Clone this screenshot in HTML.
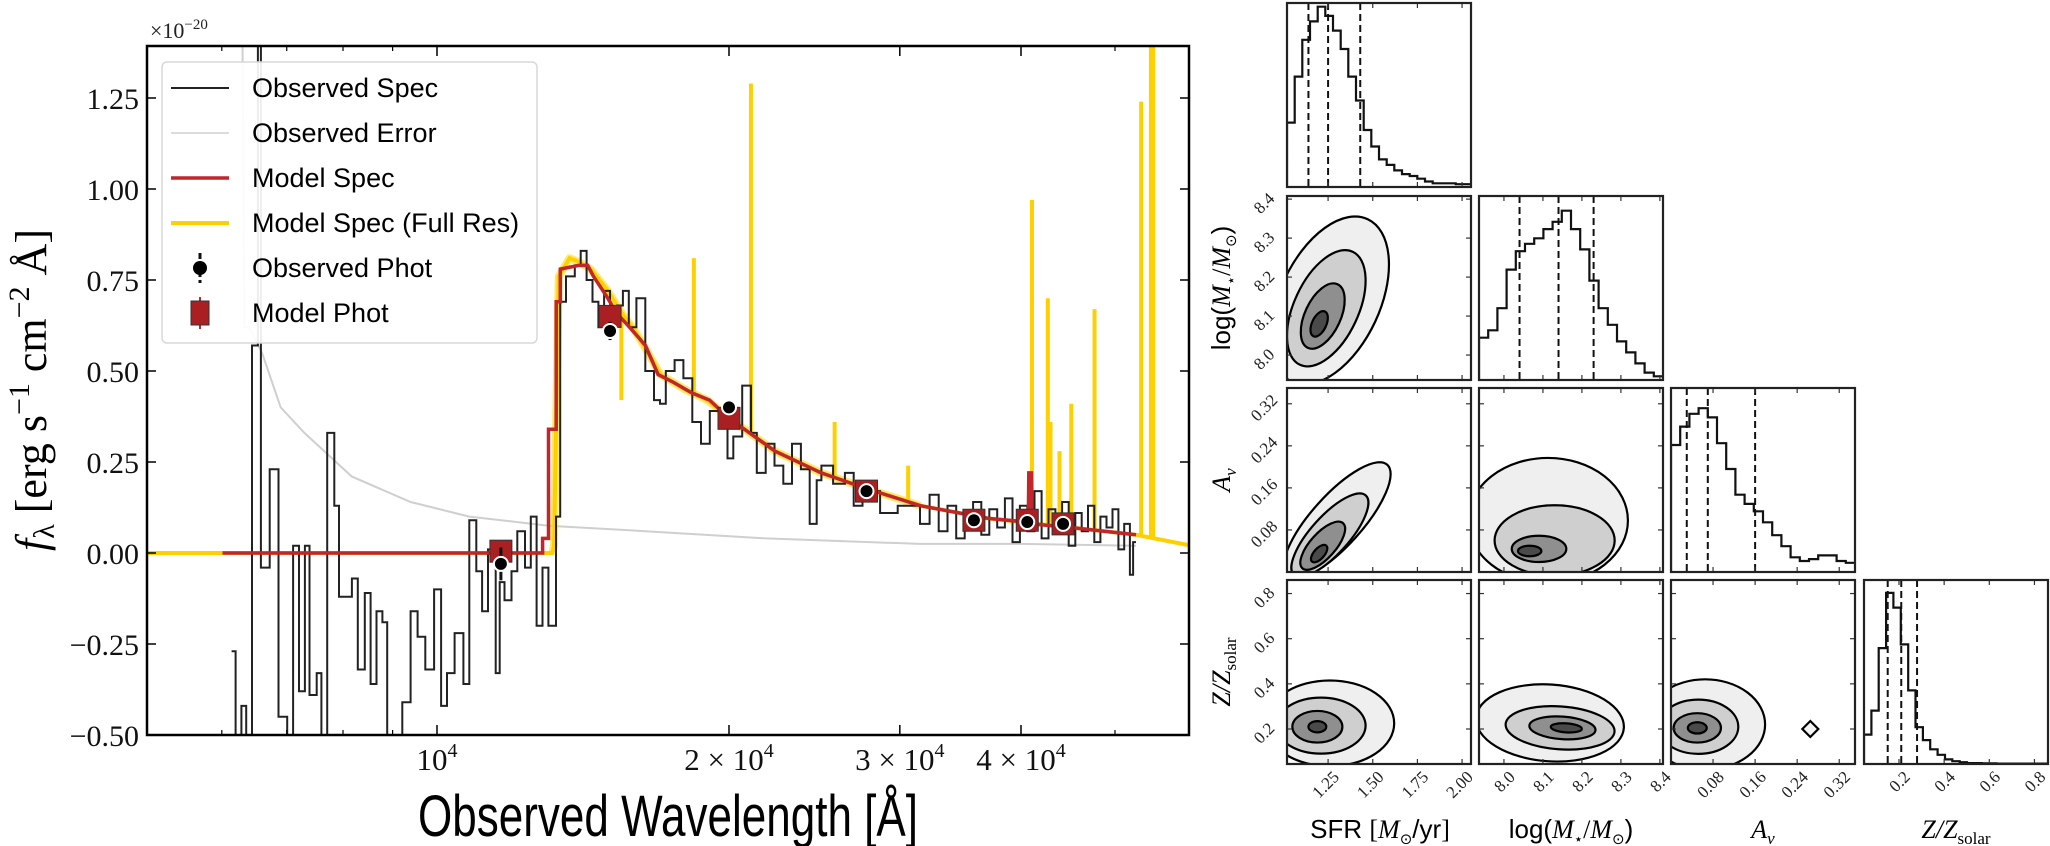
<!DOCTYPE html>
<html><head><meta charset="utf-8"><title>SED fit and posterior corner plot</title>
<style>
html,body{margin:0;padding:0;background:#fff;}
svg{display:block;}
.serif{font-family:"Liberation Serif","DejaVu Serif",serif;}
.sans{font-family:"Liberation Sans","DejaVu Sans",sans-serif;}
</style></head>
<body>
<svg id="fig" xmlns="http://www.w3.org/2000/svg" width="2050" height="846" viewBox="0 0 2050 846">
<defs>
<clipPath id="specClip"><rect x="147" y="46" width="1042" height="689"/></clipPath>
</defs>
<g id="spec"></g>
<g id="corner"></g>
</svg>
<script>
// ===== Spectrum data =====
const obsEdges = [6141,6200,6286,6357,6446,6537,6583,6722,6864,7008,7107,7206,7308,7389,7516,7600,7706,7836,7925,8171,8286,8424,8541,8662,8784,8884,9008,9210,9393,9550,9725,9931,10098,10240,10426,10647,10796,10978,11131,11287,11494,11605,11737,11934,12101,12322,12494,12668,12846,13026,13265,13397,13583,13870,14066,14264,14464,14668,14870,15080,15333,15548,15765,16055,16395,16740,16977,17213,17579,17950,18330,18715,19111,19515,19928,20207,20635,21072,21366,21818,22280,22751,23228,23721,24222,24630,24904,25608,26332,26888,27457,28628,29852,31474,32200,32900,33600,34300,35000,35700,36400,37100,37800,38500,39200,39900,40600,41300,42000,42700,43400,44100,44800,45500,46200,46900,47600,48300,49000,49700,50400,51100,51800,52200,52560];
const obsFlux = [-0.27,-0.6,-0.42,-0.6,0.57,1.5,-0.04,0.23,-0.45,-0.6,0.02,-0.38,0.02,-0.39,-0.33,-0.6,0.33,0.13,-0.12,-0.07,-0.32,-0.11,-0.36,-0.16,-0.19,-0.6,-0.5,-0.41,-0.16,-0.23,-0.32,-0.10,-0.42,-0.33,-0.22,-0.36,0.09,-0.05,-0.16,0.01,-0.33,-0.08,-0.13,-0.05,0.06,-0.04,0.10,-0.20,-0.04,-0.20,0.10,0.69,0.76,0.79,0.83,0.75,0.69,0.62,0.72,0.63,0.68,0.72,0.62,0.70,0.50,0.42,0.41,0.50,0.53,0.48,0.36,0.30,0.39,0.35,0.26,0.32,0.46,0.33,0.22,0.30,0.24,0.19,0.30,0.23,0.08,0.20,0.24,0.19,0.22,0.13,0.17,0.11,0.13,0.08,0.16,0.06,0.13,0.04,0.11,0.14,0.05,0.12,0.07,0.15,0.03,0.13,0.06,0.17,0.04,0.12,0.08,0.14,0.02,0.11,0.06,0.13,0.03,0.10,0.07,0.12,0.01,0.08,-0.06,0.03];
const errWave = [6300,6330,6400,6600,6900,7300,8171,9393,10796,13026,16395,21818,31474,40000,52560];
const errFlux = [1.45,0.62,0.62,0.55,0.40,0.33,0.21,0.14,0.10,0.075,0.06,0.04,0.025,0.025,0.02];
const modelWave = [6010,12850,12850,13030,13030,13270,13270,13400,13400,14000,14300,14500,15000,15300,15800,16400,16900,17500,18300,19100,20000,21000,22300,24900,27500,31500,37000,40700,40750,41000,41050,45000,52560];
const modelFlux = [0,0,0.04,0.04,0.34,0.34,0.69,0.69,0.78,0.79,0.79,0.76,0.70,0.66,0.62,0.57,0.49,0.47,0.44,0.42,0.37,0.33,0.28,0.22,0.18,0.13,0.095,0.085,0.22,0.22,0.08,0.07,0.05];
const fullWave = [5020,13150,13200,13350,13700,14000,14400,15000,15500,16000,16500,17000,18000,19000,20000,21000,22300,24900,27500,31500,37000,45000,52560,60000];
const fullFlux = [0,0,0.02,0.76,0.81,0.80,0.78,0.72,0.66,0.61,0.55,0.49,0.45,0.42,0.37,0.33,0.28,0.22,0.18,0.13,0.095,0.07,0.05,0.02];
const lineWave = [15490,18400,21070,25700,30600,41060,42630,42900,43830,45070,47630,53200,54450,54750];
const linePeak = [0.42,0.81,1.29,0.36,0.24,0.97,0.70,0.36,0.28,0.41,0.67,1.24,1.6,1.6];
const photWave = [11638,15080,20000,27720,35770,40600,44200];
const photObs = [-0.03,0.61,0.40,0.17,0.09,0.085,0.08];
const photErr = [0.045,0.025,0.02,0.012,0.012,0.012,0.012];
const photModel = [0.005,0.65,0.37,0.17,0.09,0.09,0.08];
const yTicks = [-0.5,-0.25,0,0.25,0.5,0.75,1.0,1.25];
const yTickLabels = ["\u22120.50","\u22120.25","0.00","0.25","0.50","0.75","1.00","1.25"];
const xMajor = [10000,20000,30000,40000];
const xMajorMant = ["","2","3","4"];
const xMinor = [6000,7000,8000,9000,50000];

// ===== Corner data =====
const sfrTicks = [1.25,1.5,1.75,2.0];
const sfrTickLabels = ["1.25","1.50","1.75","2.00"];
const massTicks = [8.0,8.1,8.2,8.3,8.4];
const massTickLabels = ["8.0","8.1","8.2","8.3","8.4"];
const avTicks = [0.08,0.16,0.24,0.32];
const avTickLabels = ["0.08","0.16","0.24","0.32"];
const zTicks = [0.2,0.4,0.6,0.8];
const zTickLabels = ["0.2","0.4","0.6","0.8"];
const sfrHist = [0.35,0.6,0.8,0.9,0.98,0.93,0.85,0.75,0.6,0.47,0.31,0.22,0.15,0.12,0.09,0.07,0.06,0.045,0.03,0.02,0.02,0.02,0.015,0.015];
const massHist = [0.23,0.27,0.39,0.6,0.7,0.74,0.77,0.82,0.86,0.92,0.82,0.71,0.54,0.39,0.3,0.21,0.15,0.09,0.04,0.02];
const avHist = [0.69,0.79,0.86,0.89,0.84,0.70,0.56,0.42,0.37,0.33,0.27,0.20,0.14,0.08,0.06,0.07,0.09,0.09,0.06,0.05];
const zHist = [0.16,0.29,0.63,0.93,0.85,0.65,0.4,0.2,0.13,0.08,0.05,0.025,0.015,0.01,0.005,0.005,0.004,0.003,0.002,0.002,0.002,0.002,0.002,0.002,0.002];
const sfrQuant = [1.14,1.25,1.43];
const massQuant = [8.04,8.14,8.23];
const avQuant = [0.03,0.07,0.16];
const zQuant = [0.15,0.21,0.28];
const cSfrMassX = [1.26,1.24,1.22,1.2], cSfrMassY = [8.14,8.12,8.10,8.08], cSfrMassRX = [0.28,0.18,0.1,0.04], cSfrMassRY = [0.23,0.16,0.09,0.035];
const cSfrAvX = [1.30,1.26,1.22,1.2], cSfrAvY = [0.098,0.07,0.05,0.035], cSfrAvRX = [0.42,0.3,0.17,0.06], cSfrAvRY = [0.048,0.036,0.024,0.01];
const cMassAvX = [8.113,8.13,8.09,8.066], cMassAvY = [0.098,0.06,0.044,0.04], cMassAvRX = [0.205,0.154,0.07,0.03], cMassAvRY = [0.119,0.067,0.025,0.01];
const cSfrZX = [1.26,1.21,1.19,1.19], cSfrZY = [0.225,0.215,0.21,0.21], cSfrZRX = [0.36,0.25,0.14,0.05], cSfrZRY = [0.19,0.124,0.07,0.025];
const cMassZX = [8.118,8.144,8.15,8.16], cMassZY = [0.227,0.205,0.205,0.205], cMassZRX = [0.19,0.14,0.085,0.04], cMassZRY = [0.17,0.095,0.05,0.02];
const cAvZX = [0.065,0.052,0.05,0.05], cAvZY = [0.22,0.21,0.205,0.205], cAvZRX = [0.114,0.076,0.045,0.018], cAvZRY = [0.2,0.12,0.065,0.025];

const NS = "http://www.w3.org/2000/svg";
function mk(tag, attrs, parent){const e=document.createElementNS(NS,tag);for(const k in attrs)e.setAttribute(k,attrs[k]);parent.appendChild(e);return e;}

const spec = document.getElementById('spec');
const PX0=147, PX1=1189, PY0=46, PY1=735;
const X = l => 437 + 970*Math.log10(l/1e4);
const Y = v => 553 - 364*v;

const plotBg = mk('rect',{x:PX0,y:PY0,width:PX1-PX0,height:PY1-PY0,fill:'#fff'},spec);



const clipG = mk('g',{'clip-path':'url(#specClip)'},spec);



let d='';
errWave.forEach((w,i)=>{d+=(i?'L':'M')+X(w).toFixed(1)+' '+Y(errFlux[i]).toFixed(1);});
const errPath = mk('path',{d:d,fill:'none',stroke:'#cfcfcf','stroke-width':2},clipG);



function interp(xs,ys,x){for(let i=1;i<xs.length;i++){if(x<=xs[i]){const t=(x-xs[i-1])/((xs[i]-xs[i-1])||1);return ys[i-1]+t*(ys[i]-ys[i-1]);}}return ys[ys.length-1];}
d='';
fullWave.forEach((w,i)=>{d+=(i?'L':'M')+X(w).toFixed(1)+' '+Y(fullFlux[i]).toFixed(1);});
let dBand='';
let first=true;
fullWave.forEach((w,i)=>{ if(w>=13150 && w<=31500){dBand+=(first?'M':'L')+X(w).toFixed(1)+' '+Y(fullFlux[i]).toFixed(1);first=false;} });
const fullBand = mk('path',{d:dBand,fill:'none',stroke:'#ffd700','stroke-width':8,'stroke-opacity':0.55,'stroke-linejoin':'round'},clipG);


const fullLine = mk('path',{d:d,fill:'none',stroke:'#ffd000','stroke-width':4},clipG);


lineWave.forEach((w,i)=>{
  const base = interp(fullWave,fullFlux,w);
  const ln = mk('line',{x1:X(w),x2:X(w),y1:Y(base),y2:Y(linePeak[i]),stroke:'#ffd000','stroke-width':4},clipG);
  
  
});

d='';
for(let i=0;i<obsFlux.length && i+1<obsEdges.length;i++){
  const x0=X(obsEdges[i]).toFixed(1), x1=X(obsEdges[i+1]).toFixed(1), y=Y(obsFlux[i]).toFixed(1);
  d+=(i?'L':'M')+x0+' '+y+'L'+x1+' '+y;
}
const obsPath = mk('path',{d:d,fill:'none',stroke:'#222','stroke-width':2},clipG);



d='';
modelWave.forEach((w,i)=>{d+=(i?'L':'M')+X(w).toFixed(1)+' '+Y(modelFlux[i]).toFixed(1);});
const modPath = mk('path',{d:d,fill:'none',stroke:'#c0262c','stroke-width':3.5},clipG);



photWave.forEach((w,i)=>{
  const x=X(w);
  const sq = mk('rect',{x:x-11,y:Y(photModel[i])-11,width:22,height:22,fill:'#a91f22',stroke:'#333','stroke-width':1},clipG);
  
  
  const eb = mk('line',{x1:x,x2:x,y1:Y(photObs[i]+photErr[i]),y2:Y(photObs[i]-photErr[i]),stroke:'#111','stroke-width':3},clipG);
  
  
  const c = mk('circle',{cx:x,cy:Y(photObs[i]),r:7,fill:'#000',stroke:'#fff','stroke-width':2},clipG);
  
  
});

const frame = mk('rect',{x:PX0,y:PY0,width:PX1-PX0,height:PY1-PY0,fill:'none',stroke:'#000','stroke-width':2.5},spec);



yTicks.forEach((v,i)=>{
  const y=Y(v);
  const t1 = mk('line',{x1:PX0,x2:PX0+9,y1:y,y2:y,stroke:'#000','stroke-width':1.5},spec);
  
  
  const t2 = mk('line',{x1:PX1-9,x2:PX1,y1:y,y2:y,stroke:'#000','stroke-width':1.5},spec);
  
  
  const lb = mk('text',{x:PX0-8,y:y+11,'text-anchor':'end','font-size':30,class:'serif',fill:'#111'},spec);
  lb.textContent = yTickLabels[i];
  
  
});
xMajor.forEach((w,i)=>{
  const x=X(w);
  const t1 = mk('line',{x1:x,x2:x,y1:PY1,y2:PY1-10,stroke:'#000','stroke-width':1.5},spec);
  
  
  const t2 = mk('line',{x1:x,x2:x,y1:PY0,y2:PY0+10,stroke:'#000','stroke-width':1.5},spec);
  
  
  const lb = mk('text',{x:x,y:770,'text-anchor':'middle','font-size':31,class:'serif',fill:'#111'},spec);
  
  
  const pre = xMajorMant[i] ? xMajorMant[i]+' \u00d7 10' : '10';
  const a = mk('tspan',{},lb); a.textContent = pre;
  const b = mk('tspan',{dy:-13,'font-size':20},lb); b.textContent='4';
});
xMinor.forEach(w=>{
  const x=X(w);
  const t1 = mk('line',{x1:x,x2:x,y1:PY1,y2:PY1-5,stroke:'#000','stroke-width':1.2},spec);
  
  
  const t2 = mk('line',{x1:x,x2:x,y1:PY0,y2:PY0+5,stroke:'#000','stroke-width':1.2},spec);
  
  
});

const off = mk('text',{x:150,y:38,'font-size':22,class:'serif',fill:'#222'},spec);


const o1=mk('tspan',{},off); o1.textContent='\u00d710';
const o2=mk('tspan',{dy:-9,'font-size':15},off); o2.textContent='\u221220';

const xt = mk('text',{x:668,y:836,'text-anchor':'middle','font-size':58,class:'sans',fill:'#000',textLength:500,lengthAdjust:'spacingAndGlyphs'},spec);
xt.textContent='Observed Wavelength [\u00c5]';



const yt = mk('text',{x:0,y:0,'text-anchor':'middle','font-size':44,class:'serif',fill:'#000',transform:'translate(46,390) rotate(-90)'},spec);


const ya=mk('tspan',{'font-style':'italic'},yt); ya.textContent='f';
const yb=mk('tspan',{dy:8,'font-size':30},yt); yb.textContent='\u03bb';
const yc=mk('tspan',{dy:-8},yt); yc.textContent=' [erg s';
const yd=mk('tspan',{dy:-17,'font-size':30},yt); yd.textContent='\u22121';
const ye=mk('tspan',{dy:17},yt); ye.textContent=' cm';
const yf=mk('tspan',{dy:-17,'font-size':30},yt); yf.textContent='\u22122';
const yg=mk('tspan',{dy:17},yt); yg.textContent=' \u00c5]';

const leg = mk('g',{},spec);


const lbox = mk('rect',{x:162,y:62,width:375,height:281,rx:5,fill:'#fff','fill-opacity':0.92,stroke:'#d8d8d8','stroke-width':1.5},leg);


const legLabels=['Observed Spec','Observed Error','Model Spec','Model Spec (Full Res)','Observed Phot','Model Phot'];
const legBase=[97,142,187,232,277,322];
legLabels.forEach((t,i)=>{
  const cy=legBase[i]-9;
  const entry = mk('g',{},leg);
  
  
  if(i<4){
    const col=['#222','#cfcfcf','#c0262c','#ffd000'][i], w=[2,1.5,3.5,4][i];
    const ln = mk('line',{x1:171,x2:229,y1:cy,y2:cy,stroke:col,'stroke-width':w},entry);
    
    
  } else if(i===4){
    const eb = mk('line',{x1:200,x2:200,y1:cy-15,y2:cy+15,stroke:'#111','stroke-width':3,'stroke-dasharray':'6 3'},entry);
    
    
    const c = mk('circle',{cx:200,cy:cy,r:7,fill:'#000'},entry);
    
    
  } else {
    const eb = mk('line',{x1:200,x2:200,y1:cy-16,y2:cy+16,stroke:'#c0262c','stroke-width':2},entry);
    
    
    const s = mk('rect',{x:191,y:cy-12,width:18,height:24,fill:'#a91f22',stroke:'#333','stroke-width':1},entry);
    
    
  }
  const tx = mk('text',{x:252,y:legBase[i],'font-size':27,class:'sans',fill:'#000'},entry);
  tx.textContent=t;
  
  
});

// ===== Corner plot =====
const corner=document.getElementById('corner');
const colX=[1287,1479,1671,1864], rowY=[3,196,388,580], S=184;
const ranges=[[1.02,2.05],[7.936,8.408],[0,0.35],[0.045,0.86]];
const ticksArr=[sfrTicks,massTicks,avTicks,zTicks];
const tickLab=[sfrTickLabels,massTickLabels,avTickLabels,zTickLabels];
const hists=[sfrHist,massHist,avHist,zHist];
const quants=[sfrQuant,massQuant,avQuant,zQuant];
const sx=(p,v)=>colX[p]+(v-ranges[p][0])/(ranges[p][1]-ranges[p][0])*S;
const sy=(r,p,v)=>rowY[r]+S-(v-ranges[p][0])/(ranges[p][1]-ranges[p][0])*S;

const contours = {
 '1,0':[cSfrMassX,cSfrMassY,cSfrMassRX,cSfrMassRY,25],
 '2,0':[cSfrAvX,cSfrAvY,cSfrAvRX,cSfrAvRY,-48],
 '2,1':[cMassAvX,cMassAvY,cMassAvRX,cMassAvRY,0],
 '3,0':[cSfrZX,cSfrZY,cSfrZRX,cSfrZRY,0],
 '3,1':[cMassZX,cMassZY,cMassZRX,cMassZRY,4],
 '3,2':[cAvZX,cAvZY,cAvZRX,cAvZRY,0]
};
const fills=['#efefef','#cfcfcf','#8f8f8f','#4a4a4a'];
let cid=0;
for(let r=0;r<4;r++){
  for(let c=0;c<=r;c++){
    const x0=colX[c], y0=rowY[r];
    const pg = mk('g',{},corner);
    
    
    const bg = mk('rect',{x:x0,y:y0,width:S,height:S,fill:'#fff'},pg);
    
    
    cid++;
    const cp = mk('clipPath',{id:'cp'+cid},pg);
    mk('rect',{x:x0,y:y0,width:S,height:S},cp);
    const inner = mk('g',{'clip-path':'url(#cp'+cid+')'},pg);
    
    
    if(r===c){
      const h=hists[c], n=h.length, bw=S/n;
      let dd='M'+x0+' '+(y0+S);
      h.forEach((v,i)=>{const yy=y0+S-v*S;dd+='L'+(x0+i*bw).toFixed(1)+' '+yy.toFixed(1)+'L'+(x0+(i+1)*bw).toFixed(1)+' '+yy.toFixed(1);});
      const hp = mk('path',{d:dd,fill:'none',stroke:'#111','stroke-width':2.2},inner);
      
      
      quants[c].forEach(q=>{
        const qx=sx(c,q);
        const ql = mk('line',{x1:qx,x2:qx,y1:y0,y2:y0+S,stroke:'#111','stroke-width':2,'stroke-dasharray':'7 4'},inner);
        
        
      });
    } else {
      const cd=contours[r+','+c];
      const xr=ranges[c], yr=ranges[r];
      const kx=S/(xr[1]-xr[0]), ky=S/(yr[1]-yr[0]);
      for(let k=0;k<cd[0].length;k++){
        const cx=sx(c,cd[0][k]), cy=sy(r,r,cd[1][k]);
        const el = mk('ellipse',{cx:cx,cy:cy,rx:cd[2][k]*kx,ry:cd[3][k]*ky,fill:fills[k],stroke:'#000','stroke-width':2.2,transform:'rotate('+cd[4]+' '+cx+' '+cy+')'},inner);
        
        
      }
      if(r===3&&c===2){
        const ex=sx(2,0.265), ey=sy(3,3,0.2);
        const dm = mk('path',{d:'M'+(ex-8)+' '+ey+'L'+ex+' '+(ey-8)+'L'+(ex+8)+' '+ey+'L'+ex+' '+(ey+8)+'Z',fill:'#f4f4f4',stroke:'#000','stroke-width':2.2},inner);
        
        
      }
    }
    ticksArr[c].forEach((t,i)=>{
      const tx=sx(c,t);
      const a=mk('line',{x1:tx,x2:tx,y1:y0+S,y2:y0+S-5,stroke:'#333','stroke-width':1.2},pg);
      
      
      const b=mk('line',{x1:tx,x2:tx,y1:y0,y2:y0+5,stroke:'#333','stroke-width':1.2},pg);
      
      
      if(r===3){
        const lb=mk('text',{x:0,y:0,'text-anchor':'end','font-size':17,class:'serif',fill:'#222',transform:'translate('+(tx+12)+','+(y0+S+14)+') rotate(-45)'},pg);
        lb.textContent=tickLab[c][i];
        
        
      }
    });
    if(r!==c){
      ticksArr[r].forEach((t,i)=>{
        const ty=sy(r,r,t);
        const a=mk('line',{x1:x0,x2:x0+5,y1:ty,y2:ty,stroke:'#333','stroke-width':1.2},pg);
        
        
        const b=mk('line',{x1:x0+S-5,x2:x0+S,y1:ty,y2:ty,stroke:'#333','stroke-width':1.2},pg);
        
        
        if(c===0){
          const lb=mk('text',{x:0,y:0,'text-anchor':'middle','font-size':17,class:'serif',fill:'#222',transform:'translate('+(x0-19)+','+(ty+8)+') rotate(-45)'},pg);
          lb.textContent=tickLab[r][i];
          
          
        }
      });
    }
    const fr=mk('rect',{x:x0,y:y0,width:S,height:S,fill:'none',stroke:'#222','stroke-width':2.2},pg);
    
    
  }
}
function title(parent,x,y,rot,parts,name){
  const t=mk('text',{x:0,y:0,'text-anchor':'middle','font-size':26,fill:'#000',transform:'translate('+x+','+y+')'+(rot?' rotate(-90)':'')},parent);
  
  
  parts.forEach(p=>{const s=mk('tspan',p[1],t);s.textContent=p[0];});
}
const sansA={'font-family':'Liberation Sans, sans-serif'};
const itA={'font-family':'Liberation Serif, serif','font-style':'italic'};
const serA={'font-family':'Liberation Serif, serif'};
title(corner,1380,838,false,[['SFR ',sansA],['[',serA],['M',itA],['\u2299',{'font-family':'DejaVu Sans, sans-serif','font-size':15,dy:6}],['/yr',Object.assign({dy:-6},sansA)],[']',serA]],'x-title-sfr');
title(corner,1571,838,false,[['log(',sansA],['M',itA],['\u22c6',{'font-size':15,dy:6}],['/',Object.assign({dy:-6},serA)],['M',itA],['\u2299',{'font-family':'DejaVu Sans, sans-serif','font-size':15,dy:6}],[')',Object.assign({dy:-6},sansA)]],'x-title-mass');
title(corner,1763,838,false,[['A',itA],['v',Object.assign({'font-size':17,dy:6},itA)]],'x-title-av');
title(corner,1956,838,false,[['Z/Z',itA],['solar',Object.assign({'font-size':17,dy:6},serA)]],'x-title-metallicity');
title(corner,1230,288,true,[['log(',sansA],['M',itA],['\u22c6',{'font-size':15,dy:6}],['/',Object.assign({dy:-6},serA)],['M',itA],['\u2299',{'font-family':'DejaVu Sans, sans-serif','font-size':15,dy:6}],[')',Object.assign({dy:-6},sansA)]],'y-title-mass');
title(corner,1230,480,true,[['A',itA],['v',Object.assign({'font-size':17,dy:6},itA)]],'y-title-av');
title(corner,1230,672,true,[['Z/Z',itA],['solar',Object.assign({'font-size':17,dy:6},serA)]],'y-title-metallicity');
</script>
</body></html>
